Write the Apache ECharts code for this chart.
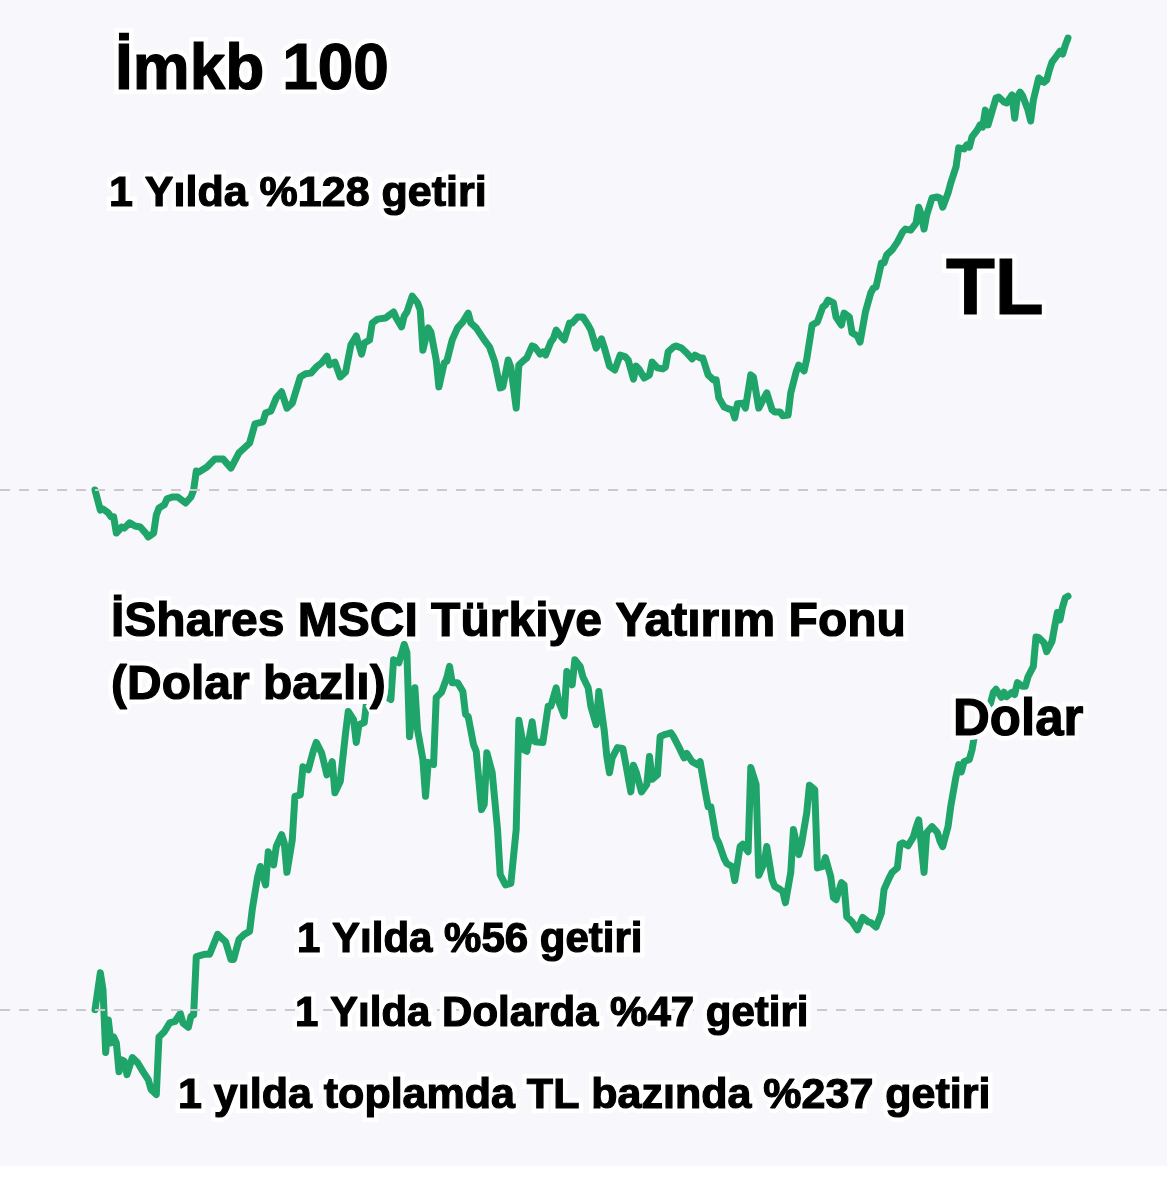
<!DOCTYPE html>
<html>
<head>
<meta charset="utf-8">
<script src="https://cdn.jsdelivr.net/npm/echarts@6/dist/echarts.min.js"></script>
<style>
  html, body { margin: 0; padding: 0; background: #ffffff; }
  #chart { width: 1167px; height: 1166px; background: #f8f8fc; }
</style>
</head>
<body>
<div id="chart"></div>
<script>
// ---- Data ----
// x: days since start (0..365), y: % change since start
const topDays = [0,2,3,5,6,7,8,10,11,13,
15,17,19,20,22,23,24,26,27,29,
31,34,36,37,38,39,42,45,48,51,
54,56,58,60,63,64,66,68,70,72,
74,77,79,81,83,85,87,88,90,92,
94,96,98,100,101,103,104,106,109,110,
112,113,115,116,117,119,121,122,123,125,
126,128,129,131,132,134,136,138,140,141,
143,146,148,150,152,153,155,156,158,159,
161,162,164,165,167,168,169,171,172,173,
175,176,178,179,181,183,185,186,188,190,
191,193,195,197,199,200,202,203,204,206,
208,209,211,213,214,215,217,218,220,222,
224,225,227,228,230,232,233,234,236,238,
239,240,241,243,244,246,247,249,251,252,
254,255,257,258,260,261,263,264,266,267,
269,271,273,274,275,277,278,280,281,283,
284,286,287,289,291,292,293,295,296,297,
299,301,303,304,306,308,309,310,311,312,
314,316,317,318,320,321,323,324,326,327,
328,329,331,332,333,334,335,337,338,339,
341,342,344,345,346,347,348,350,351,352,
354,356,357,358,359,361,362,363,364,365];

const topPct = [0,-5.7,-5.4,-6.5,-7.6,-7.6,-12.2,-10.5,-10.8,-9.3,
-10.2,-10.5,-12.2,-13.3,-12.2,-7.1,-5.1,-4.2,-2.5,-2.0,
-2.0,-3.7,-2.0,0,5.4,5.1,6.5,8.8,8.8,6.2,
10.5,11.9,13.3,18.7,19.3,21.8,22.4,26.1,27.8,23.2,
24.6,32.0,32.9,33.1,34.8,36.0,37.9,35.4,36.2,32.0,
33.4,41.1,43.6,38.5,41.6,42.5,47.3,48.4,48.7,49.3,
50.4,48.7,46.2,49.3,50.4,54.9,53.0,51.0,39.6,45.9,
44.7,36.8,29.2,36.0,36.5,42.5,45.9,47.6,50.1,47.3,
45.9,42.5,40.5,36.2,28.9,29.2,36.8,34.8,23.2,35.4,
36.8,37.4,40.8,40.5,38.5,39.1,38.2,41.9,43.0,45.3,
43.3,42.5,47.3,47.3,49.0,49.0,46.7,45.3,40.2,42.8,
40.5,35.1,34.0,38.2,37.7,36.8,31.4,35.1,34.3,31.7,
32.6,36.2,34.6,34.3,34.8,39.1,40.5,40.8,40.2,38.8,
37.1,38.2,37.4,37.4,32.6,31.2,31.2,26.1,23.5,22.9,
22.7,20.4,24.4,24.6,23.2,32.6,32.0,23.2,26.1,27.5,
22.7,22.1,22.1,21.0,21.2,27.5,33.4,35.4,33.7,37.1,
46.7,47.6,51.8,52.4,53.8,53.0,49.0,46.7,50.1,49.0,
44.5,43.6,41.9,50.4,55.8,57.2,57.5,64.3,64.3,66.6,
68.0,70.2,73.1,73.9,73.6,75.6,80.1,77.9,73.9,77.9,
82.7,83.0,82.7,80.1,84.1,86.9,91.5,96.9,96.6,97.7,
97.1,100.0,102.0,103.4,102.8,107.6,103.4,108.5,111.0,111.3,
109.9,109.6,111.9,105.3,111.3,112.7,111.6,107.6,104.5,110.4,
116.7,115.5,116.1,118.9,121.2,123.2,124.3,123.5,126.0,128.0];

const botDays = [0,2,3,4,5,6,7,8,9,10,
11,12,14,16,18,20,21,23,24,26,
28,30,32,33,35,36,37,38,41,43,
46,49,51,52,54,56,58,59,61,62,
64,65,67,68,70,71,72,74,75,77,
78,80,82,83,85,87,89,90,92,94,
95,97,98,99,101,102,104,106,108,111,
112,114,116,117,118,120,121,123,124,125,
127,128,130,132,133,134,136,138,139,140,
142,143,145,146,147,149,151,152,154,156,
158,159,161,162,164,165,168,170,171,173,
174,176,177,179,180,182,183,185,186,188,
189,191,192,193,194,196,198,199,201,202,
203,205,207,208,209,211,212,214,216,217,
219,221,222,224,226,227,229,230,231,233,
234,236,237,239,240,242,243,245,246,248,
249,251,252,254,255,257,258,259,261,262,
264,265,267,268,270,271,273,274,276,277,
278,280,281,282,284,286,288,290,291,293,
295,296,298,299,301,302,303,305,307,308,
309,311,312,314,316,317,318,320,321,323,
324,325,326,328,329,330,332,333,335,337,
338,340,341,342,344,345,346,348,349,350,
352,353,354,356,357,359,360,361,362,363,
364,365];

const botPct = [0,5.0,2.7,-5.8,-1.4,-4.5,-3.7,-4.5,-8.4,-6.8,
-7.0,-8.8,-6.5,-7.2,-8.4,-9.5,-10.8,-11.5,-3.7,-3.0,
-1.8,-1.6,-0.5,-1.8,-2.4,-0.9,-0.7,7.2,7.5,7.5,
10.2,9.2,6.8,6.8,9.5,10.2,10.6,13.6,18.0,19.4,
16.9,21.4,19.6,22.1,23.7,22.6,18.6,23.0,28.9,29.1,
32.9,32.5,35.2,36.2,34.8,31.8,33.6,29.4,30.9,37.5,
40.4,39.3,36.2,38.6,38.9,42.0,42.3,43.4,42.7,42.0,
47.4,47.0,49.5,48.4,37.0,43.6,37.9,33.9,28.9,33.5,
33.2,42.3,43.0,45.0,46.5,44.3,44.3,43.1,40.0,39.7,
35.9,35.0,27.1,27.8,34.8,32.1,24.4,18.3,16.9,17.1,
24.4,39.2,35.2,35.0,39.0,36.3,36.2,41.1,41.1,43.6,
41.7,39.8,45.8,44.0,47.4,46.5,45.1,43.6,41.1,38.6,
43.1,37.9,34.3,32.1,34.1,35.5,35.4,33.5,29.5,33.1,
32.2,29.5,30.5,34.3,31.2,31.8,37.0,37.3,37.5,37.0,
35.6,34.1,34.7,33.6,33.2,33.6,29.4,27.5,27.5,23.3,
22.6,20.5,19.8,19.4,17.5,22.1,22.4,21.4,32.8,30.5,
18.2,19.9,22.1,17.6,16.7,16.3,16.0,14.5,18.6,24.4,
21.0,22.4,26.7,30.4,29.8,19.2,19.4,20.6,18.0,15.2,
14.9,17.2,16.9,12.6,11.9,10.8,12.5,11.9,11.8,11.2,
13.1,16.3,17.9,18.6,19.2,22.4,22.6,22.2,23.4,24.7,
25.7,18.6,24.0,24.8,24.0,22.8,22.1,24.8,27.5,31.6,
33.2,32.2,33.6,33.9,35.2,37.3,38.9,39.3,40.2,43.0,
43.4,42.3,43.0,42.4,43.0,42.7,44.3,43.8,43.8,45.1,
46.5,50.5,50.4,49.7,48.5,49.9,51.9,53.8,52.8,54.6,
55.8,56.0];

const labels = {
  topTitle: 'İmkb 100',
  topReturn: '1 Yılda %128 getiri',
  topUnit: 'TL',
  botTitle1: 'İShares MSCI Türkiye Yatırım Fonu',
  botTitle2: '(Dolar bazlı)',
  botUnit: 'Dolar',
  botReturn: '1 Yılda %56 getiri',
  botReturnUsd: '1 Yılda Dolarda %47 getiri',
  botReturnTotal: '1 yılda toplamda TL bazında %237 getiri'
};

// ---- Chart ----
const LINE_COLOR = '#1fa56a';
const FONT = '"Liberation Sans", "Helvetica Neue", Arial, sans-serif';

function pairs(xs, ys) { return xs.map((x, i) => [x, ys[i]]); }

function outlined(text, x, y, size) {
  const font = 'bold ' + size + 'px ' + FONT;
  return [
    { type: 'text', x: x, y: y, z: 100, silent: true,
      style: { text: text, font: font, fill: '#ffffff', stroke: '#ffffff', lineWidth: 10,
               lineJoin: 'round', align: 'left', verticalAlign: 'middle',
               shadowColor: 'rgba(0,0,0,0.55)', shadowBlur: 3, shadowOffsetY: 1.5 } },
    { type: 'text', x: x, y: y, z: 101, silent: true,
      style: { text: text, font: font, fill: '#000000', stroke: '#000000', lineWidth: 1.2,
               lineJoin: 'round', align: 'left', verticalAlign: 'middle' } }
  ];
}

const chart = echarts.init(document.getElementById('chart'), null, { renderer: 'canvas' });

const xAxisCommon = { type: 'value', min: -35.64, max: 402.14, show: false };
const dashed = {
  silent: true, symbol: 'none', animation: false,
  label: { show: false },
  lineStyle: { color: '#c9c9ce', width: 2, type: [10, 9] },
  data: [{ yAxis: 0 }]
};

chart.setOption({
  animation: false,
  backgroundColor: 'transparent',
  grid: [
    { left: 0, right: 0, top: 31, height: 519 },
    { left: 0, right: 0, top: 552, height: 561 }
  ],
  xAxis: [
    Object.assign({ gridIndex: 0 }, xAxisCommon),
    Object.assign({ gridIndex: 1 }, xAxisCommon)
  ],
  yAxis: [
    { gridIndex: 0, type: 'value', min: -17, max: 130, show: false },
    { gridIndex: 1, type: 'value', min: -14, max: 62, show: false }
  ],
  series: [
    { type: 'line', xAxisIndex: 0, yAxisIndex: 0, data: pairs(topDays, topPct),
      showSymbol: false, symbol: 'none', smooth: false,
      lineStyle: { color: LINE_COLOR, width: 7, join: 'round', cap: 'round' },
      markLine: dashed, z: 2 },
    { type: 'line', xAxisIndex: 1, yAxisIndex: 1, data: pairs(botDays, botPct),
      showSymbol: false, symbol: 'none', smooth: false,
      lineStyle: { color: LINE_COLOR, width: 7, join: 'round', cap: 'round' },
      markLine: dashed, z: 2 }
  ],
  graphic: [].concat(
    outlined(labels.topTitle, 115, 71, 64),
    outlined(labels.topReturn, 109, 194, 43),
    outlined(labels.topUnit, 946, 292, 80),
    outlined(labels.botTitle1, 111, 623, 48),
    outlined(labels.botTitle2, 111, 686, 48),
    outlined(labels.botUnit, 953, 721, 51),
    outlined(labels.botReturn, 297, 940, 42),
    outlined(labels.botReturnUsd, 295, 1014, 42),
    outlined(labels.botReturnTotal, 178, 1096, 43)
  )
});
</script>
</body>
</html>
